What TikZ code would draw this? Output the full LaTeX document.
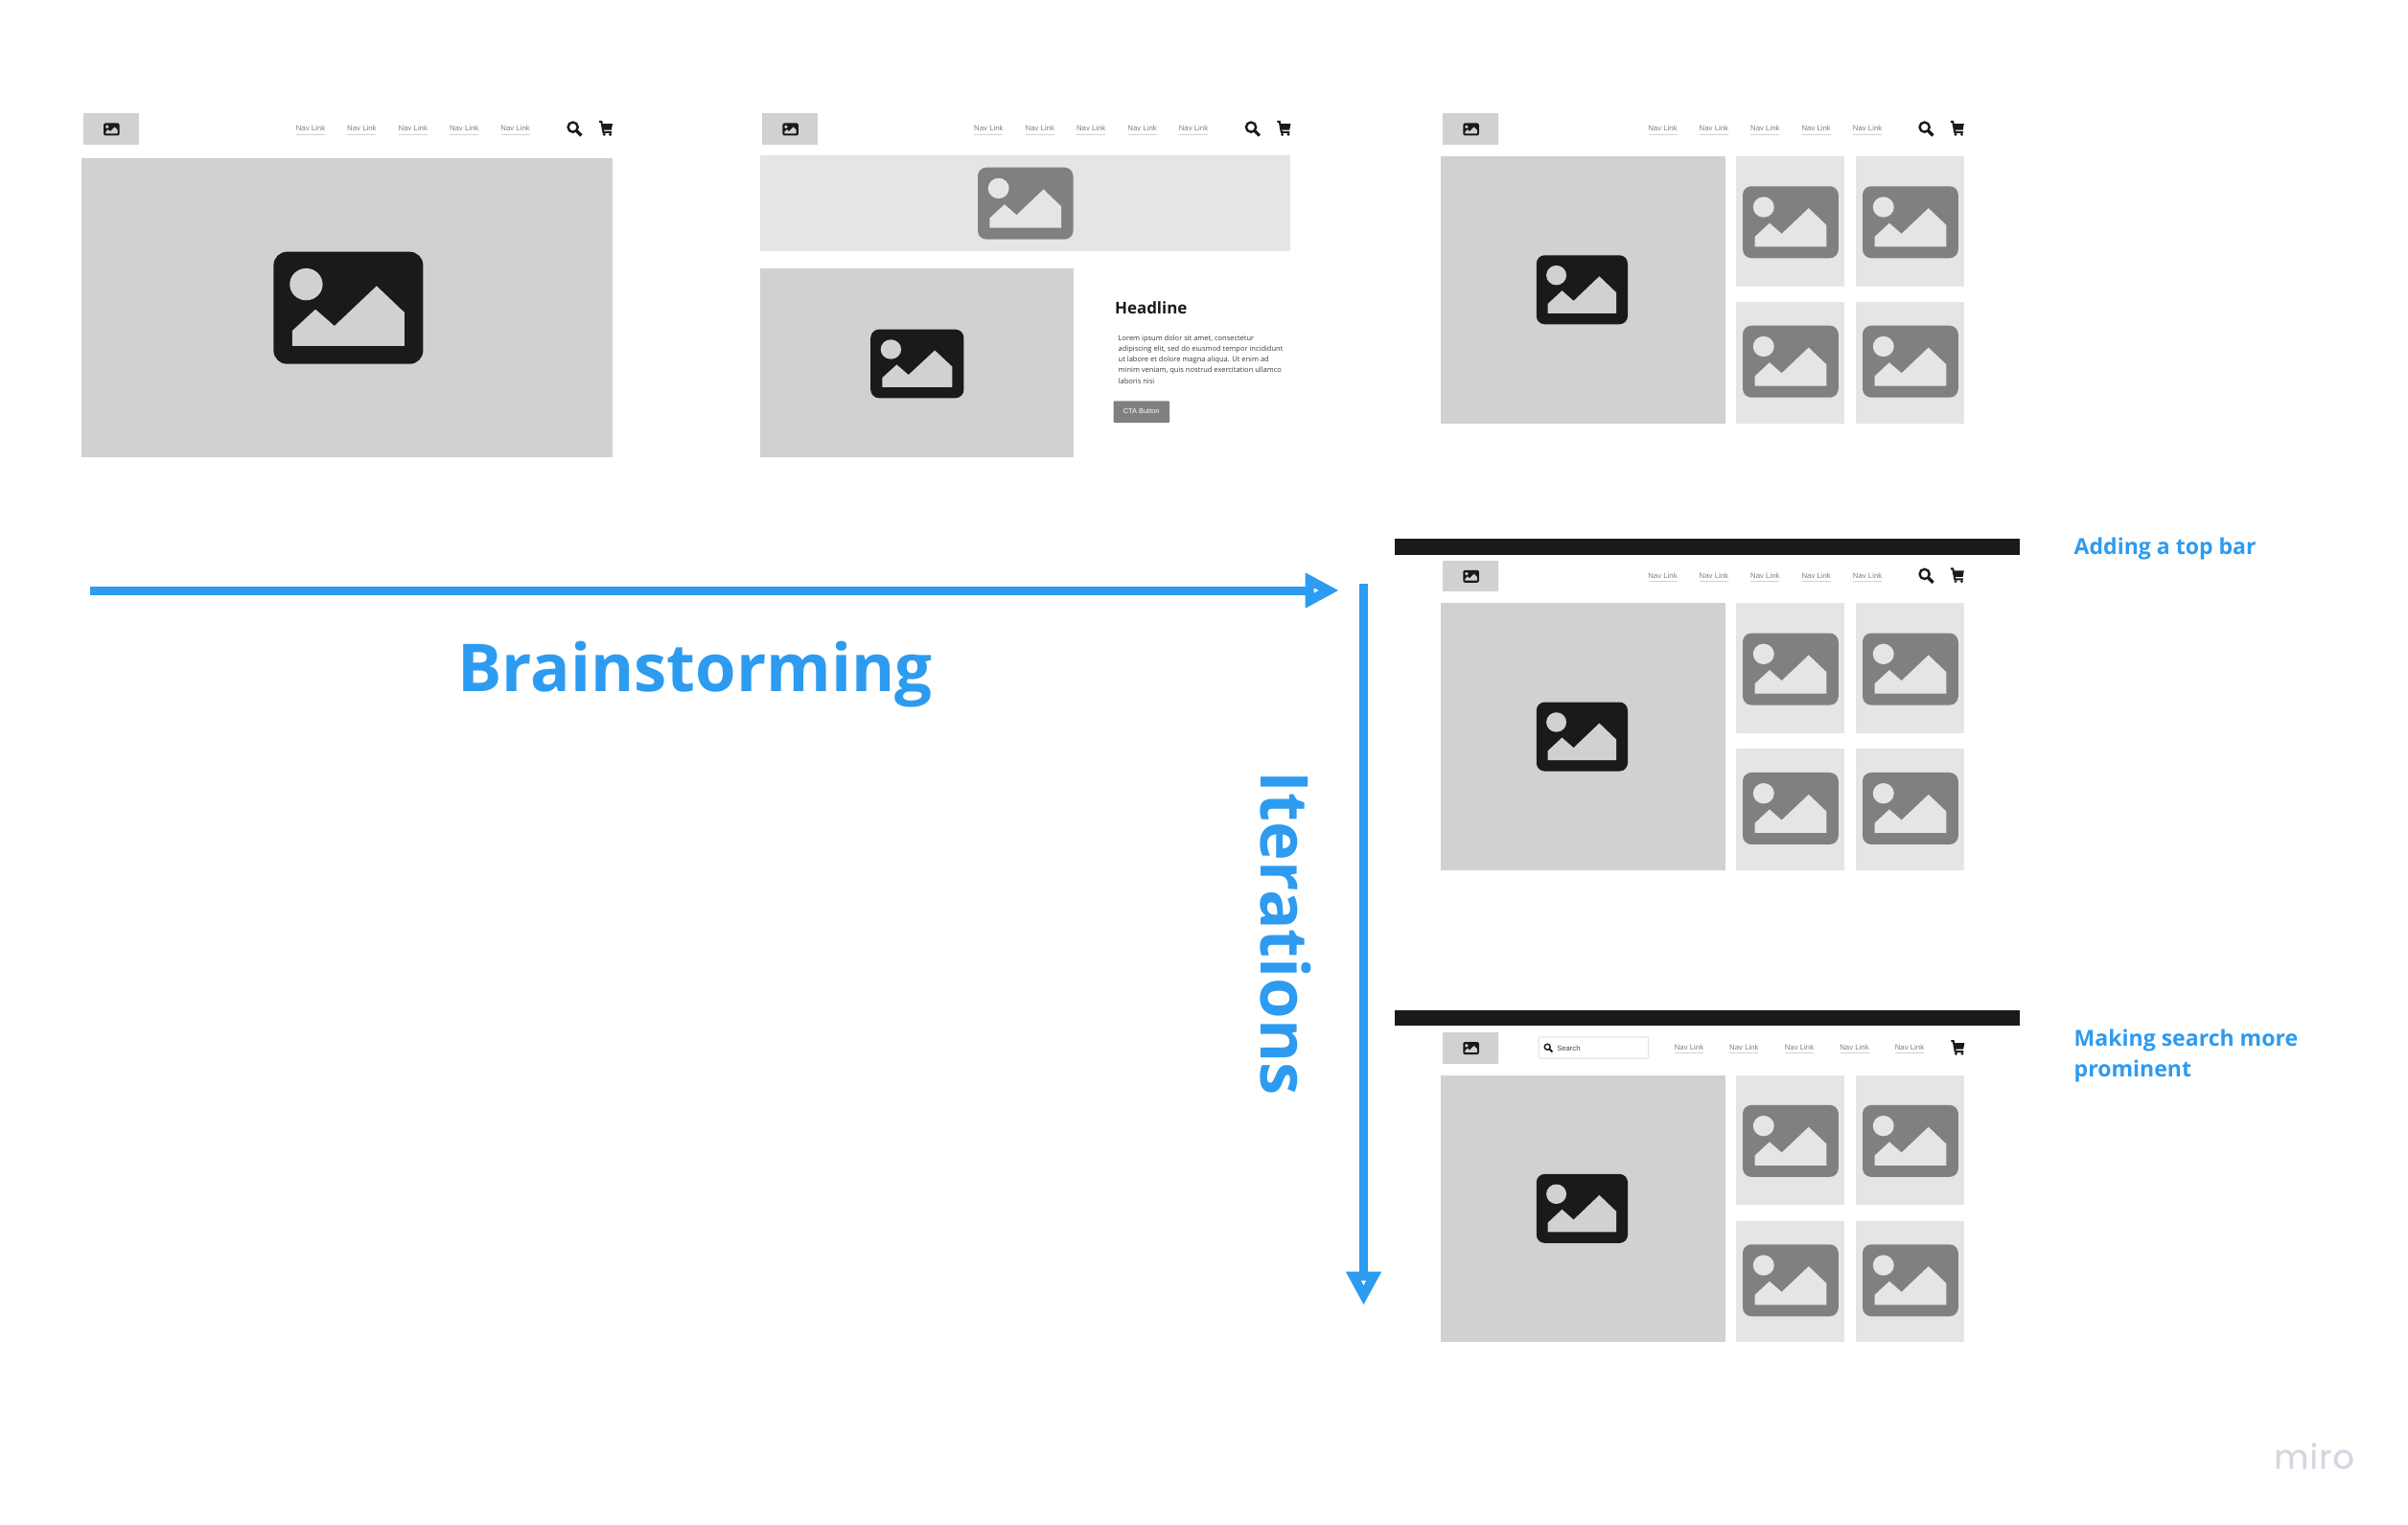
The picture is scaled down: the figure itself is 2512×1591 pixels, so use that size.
\documentclass[tikz,border=0pt]{standalone}
\usepackage{fontspec}
\setmainfont{Open Sans}
\newfontfamily\navfont{Liberation Sans}
\newfontfamily\brandfont[FakeBold=0.6,LetterSpace=3]{Poppins}
\usetikzlibrary{arrows.meta}
\definecolor{imgbg}{HTML}{D1D1D1}
\definecolor{lightbg}{HTML}{E5E5E5}
\definecolor{midgray}{HTML}{808080}
\definecolor{ink}{HTML}{1A1A1A}
\definecolor{accent}{HTML}{2D9BF0}
\definecolor{brandgray}{HTML}{D6D6E0}
\tikzset{
  navtext/.style={inner sep=0pt,text=midgray,font=\navfont\fontsize{2.22pt}{2.6pt}\selectfont},
  bodyline/.style={inner sep=0pt,anchor=west,text=ink!85,font=\fontsize{2.13pt}{2.6pt}\selectfont},
  notetext/.style={inner sep=0pt,anchor=west,text=accent,font=\bfseries\fontsize{6.55pt}{7pt}\selectfont},
  bigtext/.style={inner sep=0pt,text=accent,font=\bfseries\fontsize{19.6pt}{22pt}\selectfont},
  flowarrow/.style={draw=accent,line width=0.09cm,-{Triangle[length=0.35cm,width=0.345cm,fill=accent]}},
  tipmark/.style={fill=white,draw=none}
}
% icon: left, top, width, height, dark, light
\newcommand{\imgicon}[6]{%
  \begin{scope}[shift={(#1,#2)},x=#3*0.01cm,y=-#4*0.01cm]
    \fill[#5,rounded corners=#3*0.0009cm] (0,0) rectangle (1,1);
    \fill[#6] (0.218,0.29) ellipse [x radius=0.11,y radius=0.1425];
    \fill[#6] (0.125,0.84) -- (0.125,0.704) -- (0.28,0.513) -- (0.407,0.661)
      -- (0.689,0.305) -- (0.875,0.541) -- (0.875,0.84) -- cycle;
  \end{scope}}
\newcommand{\searchicon}[3]{%
  \begin{scope}[shift={(#1,#2)},x=#3*0.01cm,y=-#3*0.01cm]
    \draw[ink,line width=#3*0.0014cm] (-0.08,-0.08) circle [radius=0.3];
    \draw[ink,line width=#3*0.0019cm] (0.15,0.15) -- (0.44,0.44);
  \end{scope}}
\newcommand{\carticon}[2]{%
  \begin{scope}[shift={(#1,#2)}]
    \fill[ink] (-4.2,-4.8) -- (7,-4.8) -- (5.8,1.6) -- (-3,1.6) -- cycle;
    \draw[ink,line width=0.02cm] (-7,-7) -- (-4.6,-7) -- (-2.6,4) -- (6,4);
    \fill[ink] (-1.8,6.3) circle [radius=1.6];
    \fill[ink] (4.6,6.3) circle [radius=1.6];
  \end{scope}}
\newcommand{\navlink}[3]{%
  \node[navtext] (#1) at (#2,#3) {Nav Link};
  \draw[imgbg,line width=0.01cm] (#2-15,#3+6.5) -- (#2+15,#3+6.5);}
\newcommand{\logobox}[1]{%
  \fill[imgbg] (#1,118.5) rectangle (#1+58,151);
  \imgicon{#1+21}{128.5}{16.5}{13}{ink}{imgbg}}
\newcommand{\topnav}[2]{% prefix, dx
  \navlink{#1a}{324+#2}{134}\navlink{#1b}{377.4+#2}{134}\navlink{#1c}{430.8+#2}{134}\navlink{#1d}{484.2+#2}{134}\navlink{#1e}{537.6+#2}{134}}
\newcommand{\gridcards}{%
  \fill[imgbg] (1503.3,163) rectangle (1800,441.7);
  \imgicon{1602.8}{266.3}{95.2}{72}{ink}{imgbg}
  \foreach \cx/\ix in {1811.4/1818,1936.2/1943}{
    \fill[lightbg] (\cx,163) rectangle (\cx+112.8,298.7);
    \fill[lightbg] (\cx,315) rectangle (\cx+112.8,441.7);
    \imgicon{\ix}{194.3}{99.8}{75}{midgray}{lightbg}
    \imgicon{\ix}{339.7}{99.8}{75}{midgray}{lightbg}
  }}
\begin{document}
\begin{tikzpicture}[x=0.01cm,y=-0.01cm]
\useasboundingbox[fill=white] (0,0) rectangle (2512,1591);

% --- first sketch
\logobox{87.2}
\topnav{pa}{0}
\searchicon{599}{134}{17}
\carticon{632}{134}
\fill[imgbg] (85,165) rectangle (639,477);
\imgicon{285.4}{262.7}{156}{117}{ink}{imgbg}

% --- second sketch
\logobox{795.3}
\topnav{pb}{707.4}
\searchicon{1306.4}{134}{17}
\carticon{1339.4}{134}
\fill[lightbg] (793.4,162.3) rectangle (1346,262.3);
\imgicon{1020}{174.7}{99.5}{75}{midgray}{lightbg}
\fill[imgbg] (793.4,280.3) rectangle (1119.8,477);
\imgicon{908.2}{343.7}{97.2}{71.6}{ink}{imgbg}
\node[inner sep=0pt,anchor=west,text=ink,font=\bfseries\fontsize{4.8pt}{5.5pt}\selectfont] (headline) at (1162.5,321) {Headline};
\node[bodyline] (l1) at (1166,353.3) {Lorem ipsum dolor sit amet, consectetur};
\node[bodyline] (l2) at (1166,364.3) {adipiscing elit, sed do eiusmod tempor incididunt};
\node[bodyline] (l3) at (1166,375.3) {ut labore et dolore magna aliqua. Ut enim ad};
\node[bodyline] (l4) at (1166,386.3) {minim veniam, quis nostrud exercitation ullamco};
\node[bodyline] (l5) at (1166,397.3) {laboris nisi};
\fill[midgray,rounded corners=0.01cm] (1161.5,418.3) rectangle (1220,441);
\node[inner sep=0pt,text=white,font=\navfont\fontsize{2.1pt}{2.5pt}\selectfont] (cta) at (1190.7,429.3) {CTA Button};

% --- third sketch
\begin{scope}
\logobox{1505.3}
\topnav{pc}{1410.5}
\searchicon{2009}{134}{17}
\carticon{2041.8}{134}
\gridcards
\end{scope}

% --- first iteration
\fill[ink] (1454.5,562.3) rectangle (2106.6,578.7);
\begin{scope}[yshift=-4.66cm]
\logobox{1505.3}
\topnav{pd}{1410.5}
\searchicon{2009}{134}{17}
\carticon{2041.8}{134}
\gridcards
\end{scope}

% --- second iteration
\fill[ink] (1454.5,1054) rectangle (2106.6,1070.3);
\begin{scope}[yshift=-9.58cm]
\logobox{1505.3}
\gridcards
\end{scope}
\draw[lightbg,fill=white,line width=0.012cm,rounded corners=0.012cm] (1605.3,1082) rectangle (1719.5,1104.3);
\searchicon{1615}{1093}{10}
\node[inner sep=0pt,anchor=west,text=ink!80,font=\navfont\fontsize{2.17pt}{2.6pt}\selectfont] (searchlabel) at (1623.6,1093.3) {Search};
\navlink{pea}{1762}{1092.3}
\navlink{peb}{1819.4}{1092.3}
\navlink{pec}{1877}{1092.3}
\navlink{ped}{1934.5}{1092.3}
\navlink{pee}{1992}{1092.3}
\carticon{2042.3}{1093}

% --- axes
\coordinate (hstart) at (94,616);
\coordinate (hend) at (1396.7,616);
\coordinate (vstart) at (1422.5,609);
\coordinate (vend) at (1422.5,1361.7);
\draw[flowarrow] (hstart) -- (hend);
\draw[flowarrow] (vstart) -- (vend);
\fill[tipmark] (1370.5,613.5) -- (1375.5,616) -- (1370.5,618.5) -- cycle;
\fill[tipmark] (1420,1336) -- (1425,1336) -- (1422.5,1341) -- cycle;

\node[bigtext] (brain) at (725,703.5) {Brainstorming};
\node[bigtext,rotate=-90] (iter) at (1341,974) {Iterations};
\node[notetext] (n1) at (2163,573) {Adding a top bar};
\node[notetext] (n2a) at (2163,1086) {Making search more};
\node[notetext] (n2b) at (2163,1118) {prominent};
\node[inner sep=0pt,text=brandgray,font=\brandfont\fontsize{10pt}{12pt}\selectfont] (miro) at (2414,1519) {miro};
\end{tikzpicture}
\end{document}
